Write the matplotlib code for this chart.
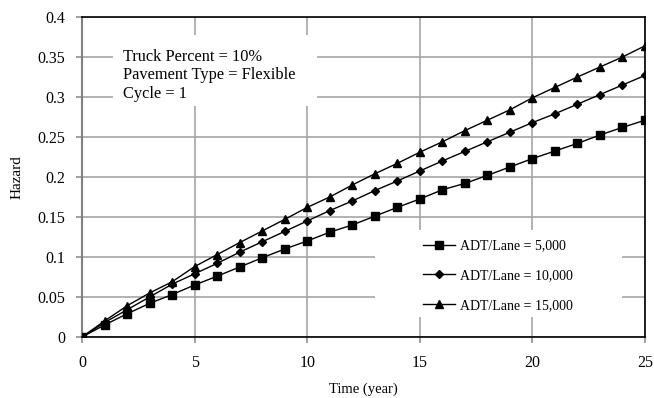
import numpy as np
import matplotlib
matplotlib.use("Agg")
import matplotlib.pyplot as plt
from matplotlib.patches import Rectangle

# Hazard over time for three traffic levels
years = list(range(0, 26))
hazard_5k = [0.0, 0.015, 0.029, 0.042, 0.053, 0.065, 0.076, 0.0875, 0.099, 0.110,
             0.120, 0.131, 0.140, 0.151, 0.162, 0.1725, 0.184, 0.192, 0.202, 0.2125,
             0.223, 0.2325, 0.242, 0.2525, 0.262, 0.271]
hazard_10k = [0.0, 0.018, 0.034, 0.050, 0.066, 0.079, 0.092, 0.106, 0.119, 0.132,
              0.145, 0.158, 0.170, 0.183, 0.195, 0.2075, 0.220, 0.232, 0.244, 0.256,
              0.268, 0.279, 0.291, 0.303, 0.315, 0.327]
hazard_15k = [0.0, 0.020, 0.039, 0.055, 0.069, 0.088, 0.103, 0.118, 0.1325, 0.147,
              0.162, 0.175, 0.190, 0.204, 0.217, 0.231, 0.244, 0.258, 0.271, 0.284,
              0.299, 0.312, 0.325, 0.3375, 0.350, 0.364]
labels = ["ADT/Lane = 5,000", "ADT/Lane = 10,000", "ADT/Lane = 15,000"]
note = "Truck Percent = 10%\nPavement Type = Flexible\nCycle = 1"

plt.rcParams['font.family'] = ['Liberation Serif', 'DejaVu Serif']

fig = plt.figure(figsize=(6.54, 3.98), dpi=100)
ax = fig.add_axes([82 / 654, 1 - 337 / 398, 563 / 654, 320 / 398])

ax.plot(years, hazard_5k, color='black', lw=1, marker='s', ms=5.5, label=labels[0], zorder=3)
ax.plot(years, hazard_10k, color='black', lw=1, marker='D', ms=4, label=labels[1], zorder=3)
ax.plot(years, hazard_15k, color='black', lw=1, marker='^', ms=6, label=labels[2], zorder=3)

ax.set_xlim(0, 25)
ax.set_ylim(0, 0.4)
ax.set_xticks(range(0, 26, 5))
ax.set_yticks(np.arange(0, 0.41, 0.05))
ax.set_yticklabels(['0', '0.05', '0.1', '0.15', '0.2', '0.25', '0.3', '0.35', '0.4'])
ax.tick_params(labelsize=11.5, length=4, color='#909090', width=1.2)
ax.tick_params(axis='x', pad=9)
ax.tick_params(axis='y', pad=8)
ax.grid(True, color='#a6a6a6', lw=1.2)
ax.set_axisbelow(True)

for side in ['top', 'right', 'bottom']:
    ax.spines[side].set_color('black')
    ax.spines[side].set_linewidth(1.2)
ax.spines['left'].set_color('#808080')
ax.spines['left'].set_linewidth(1.5)

ax.set_xlabel("Time (year)", fontsize=10.5, labelpad=8)
ax.set_ylabel("Hazard", fontsize=11, labelpad=10)

# white panels behind the note and the legend
ax.add_patch(Rectangle((1.38, 0.289), 9.05, 0.0885, facecolor='white', edgecolor='none', zorder=1))
ax.add_patch(Rectangle((13.0, 0.025), 10.98, 0.109, facecolor='white', edgecolor='none', zorder=1))

ax.text(1.8, 0.327, note, fontsize=11.8, va='center', ha='left', linespacing=1.2, zorder=2)

leg = ax.legend(loc='upper left', bbox_to_anchor=(15.14, 0.122), bbox_transform=ax.transData,
                frameon=False, fontsize=10, numpoints=1, handlelength=2.3,
                handletextpad=0.4, labelspacing=1.2, borderaxespad=0, borderpad=0)

fig.savefig("out.png", dpi=100)
